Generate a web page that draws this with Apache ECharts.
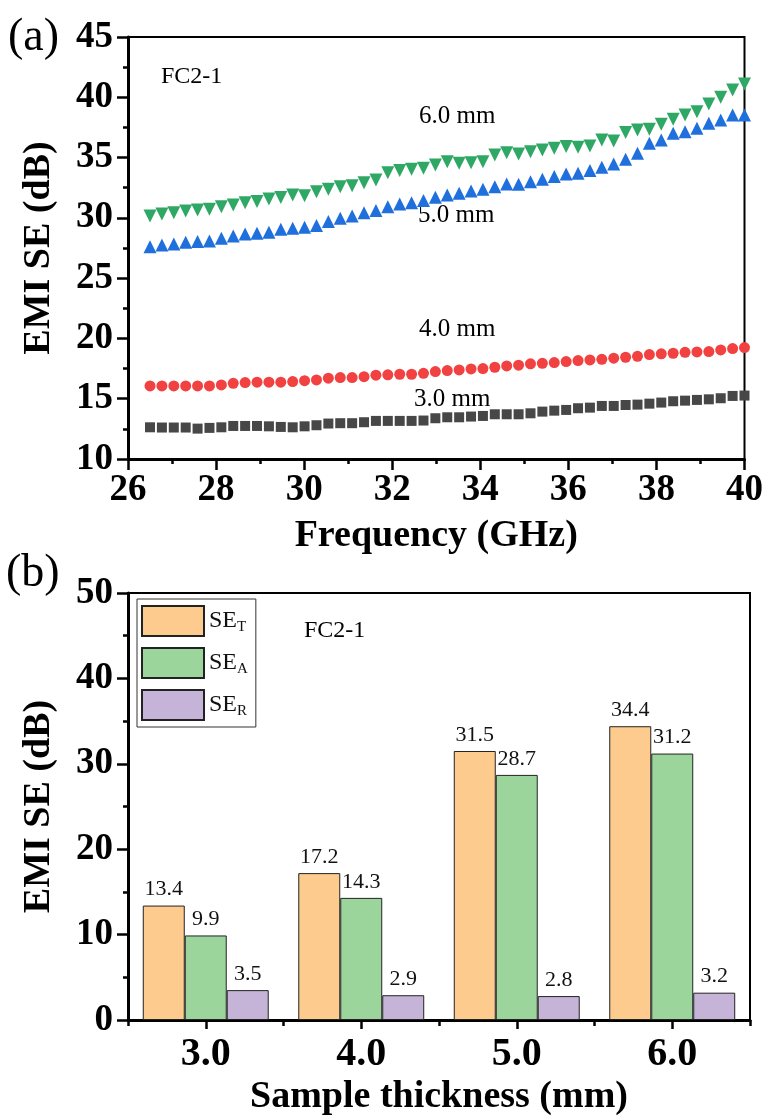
<!DOCTYPE html>
<html>
<head>
<meta charset="utf-8">
<script src="https://cdn.jsdelivr.net/npm/echarts@6/dist/echarts.min.js"></script>
<style>
html,body{margin:0;padding:0;background:#fff;}
#main{width:766px;height:1117px;}
</style>
</head>
<body>
<div id="main"></div>
<script>
// (a) frequency sweep, GHz
var freq = [26.50,26.77,27.04,27.31,27.58,27.85,28.12,28.39,28.66,28.93,29.20,29.47,29.74,30.01,30.28,30.55,30.82,31.09,31.36,31.63,31.90,32.17,32.44,32.71,32.98,33.25,33.52,33.79,34.06,34.33,34.60,34.87,35.14,35.41,35.68,35.95,36.22,36.49,36.76,37.03,37.30,37.57,37.84,38.11,38.38,38.65,38.92,39.19,39.46,39.73,40.00];
var se30 = [12.63,12.61,12.61,12.61,12.52,12.58,12.63,12.74,12.74,12.74,12.71,12.66,12.63,12.71,12.80,12.94,12.97,12.97,13.05,13.16,13.16,13.16,13.16,13.19,13.38,13.46,13.46,13.52,13.57,13.71,13.71,13.71,13.79,13.93,14.01,14.07,14.21,14.26,14.40,14.40,14.48,14.51,14.59,14.68,14.79,14.84,14.90,14.95,15.04,15.23,15.26];
var se40 = [16.06,16.06,16.06,16.06,16.06,16.06,16.14,16.28,16.34,16.37,16.37,16.37,16.42,16.50,16.56,16.70,16.75,16.75,16.83,16.95,16.98,17.03,17.03,17.11,17.25,17.33,17.39,17.47,17.50,17.61,17.72,17.78,17.89,17.94,18.00,18.08,18.16,18.22,18.27,18.36,18.44,18.52,18.66,18.72,18.77,18.85,18.88,18.91,19.05,19.16,19.24];
var se50 = [27.61,27.75,27.84,27.97,28.03,28.08,28.31,28.50,28.67,28.72,28.80,29.05,29.13,29.22,29.36,29.69,29.96,30.16,30.43,30.60,30.93,31.15,31.26,31.43,31.71,31.90,32.04,32.23,32.37,32.59,32.81,32.78,33.00,33.20,33.42,33.64,33.70,33.92,34.19,34.47,34.86,35.35,36.18,36.46,37.01,37.15,37.43,37.84,38.12,38.53,38.53];
var se60 = [30.16,30.32,30.43,30.57,30.66,30.71,30.93,31.07,31.26,31.35,31.57,31.68,31.90,31.84,32.17,32.37,32.59,32.67,32.92,33.14,33.75,33.92,34.03,34.11,34.39,34.66,34.52,34.58,34.66,35.22,35.41,35.30,35.49,35.63,35.77,35.91,35.85,35.96,36.46,36.38,37.07,37.29,37.34,37.76,38.17,38.53,38.81,39.44,40.00,40.61,41.10];

// (b) per thickness
var thickness = ['3.0','4.0','5.0','6.0'];
var seT = [13.4,17.2,31.5,34.4];
var seA = [9.9,14.3,28.7,31.2];
var seR = [3.5,2.9,2.8,3.2];

var serif = '"Liberation Serif","Times New Roman",serif';

function pairs(ys) {
	return freq.map(function(f,i) {
		return [f, ys[i]];
	});
}

function scatter(name,ys,symbol,size,color,rot) {
	return {
		name:name,
		type:'scatter',
		xAxisIndex:0,
		yAxisIndex:0,
		data:pairs(ys),
		symbol:symbol,
		symbolSize:size,
		symbolRotate:rot||0,
		itemStyle:{color:color,opacity:1},
		z:3
	};
}

function bar(name,vals,color) {
	return {
		name:name,
		type:'bar',
		xAxisIndex:1,
		yAxisIndex:1,
		data:vals,
		barWidth:'27%',
		barGap:'0%',
		itemStyle:{color:color,borderColor:'#222',borderWidth:1},
		label:{show:true,position:'top',distance:5,fontFamily:serif,fontSize:22,color:'#111'}
	};
}

var axisLine = {show:true,lineStyle:{color:'#000',width:3}};
var tickLabel = {fontFamily:serif,fontWeight:'bold',fontSize:37,color:'#000'};
var nameStyle = {fontFamily:serif,fontWeight:'bold',fontSize:38,color:'#000'};

var myChart = echarts.init(document.getElementById('main'));
myChart.setOption({
	backgroundColor:'#fff',
	animation:false,
	grid:[
		{left:128,top:37,width:618,height:422,show:true,borderColor:'#000',borderWidth:2,backgroundColor:'transparent'},
		{left:128,top:593,width:622,height:427,show:true,borderColor:'#000',borderWidth:2,backgroundColor:'transparent'}
	],
	xAxis:[
		{
			gridIndex:0,type:'value',min:26,max:40,interval:2,
			axisLine:axisLine,
			axisTick:{show:true,inside:false,length:11,lineStyle:{color:'#000',width:2.5}},
			minorTick:{show:true,splitNumber:2,length:5,lineStyle:{color:'#000',width:2.5}},
			splitLine:{show:false},
			axisLabel:Object.assign({margin:13},tickLabel),
			name:'Frequency (GHz)',nameLocation:'middle',nameGap:58,nameTextStyle:nameStyle
		},
		{
			gridIndex:1,type:'category',data:thickness,
			axisLine:axisLine,
			axisTick:{show:true,alignWithLabel:true,length:9,lineStyle:{color:'#000',width:2.5}},
			splitLine:{show:false},
			axisLabel:{margin:15,fontFamily:serif,fontWeight:'bold',fontSize:40,color:'#000'},
			name:'Sample thickness (mm)',nameLocation:'middle',nameGap:58,nameTextStyle:nameStyle
		},
		{
			gridIndex:1,type:'category',data:thickness,position:'bottom',
			axisLine:{show:false},
			axisTick:{show:true,alignWithLabel:false,length:6,lineStyle:{color:'#000',width:2.5}},
			axisLabel:{show:false},
			splitLine:{show:false}
		}
	],
	yAxis:[
		{
			gridIndex:0,type:'value',min:10,max:45,interval:5,
			axisLine:axisLine,
			axisTick:{show:true,inside:false,length:11,lineStyle:{color:'#000',width:2.5}},
			minorTick:{show:true,splitNumber:2,length:5,lineStyle:{color:'#000',width:2.5}},
			splitLine:{show:false},
			axisLabel:Object.assign({margin:15},tickLabel),
			name:'EMI SE (dB)',nameLocation:'middle',nameGap:70,nameRotate:90,nameTextStyle:nameStyle
		},
		{
			gridIndex:1,type:'value',min:0,max:50,interval:10,
			axisLine:axisLine,
			axisTick:{show:true,inside:false,length:11,lineStyle:{color:'#000',width:2.5}},
			minorTick:{show:true,splitNumber:2,length:5,lineStyle:{color:'#000',width:2.5}},
			splitLine:{show:false},
			axisLabel:Object.assign({margin:15},tickLabel),
			name:'EMI SE (dB)',nameLocation:'middle',nameGap:70,nameRotate:90,nameTextStyle:nameStyle
		}
	],
	legend:{
		data:['SE_T','SE_A','SE_R'],
		orient:'vertical',
		left:137,top:599,
		itemWidth:62,itemHeight:30,itemGap:10,
		padding:[6,8,6,4],
		borderColor:'#333',borderWidth:1,
		icon:'rect',
		formatter:function(n) {
			return '{m|SE}{s|'+n.split('_')[1]+'}';
		},
		textStyle:{
			rich:{
				m:{fontFamily:serif,fontSize:24,color:'#111'},
				s:{fontFamily:serif,fontSize:15,color:'#111',padding:[12,0,0,0]}
			}
		}
	},
	series:[
		scatter('3.0mm',se30,'rect',10,'#474747'),
		scatter('4.0mm',se40,'circle',11,'#f24141'),
		scatter('5.0mm',se50,'triangle',13,'#1f6fdc'),
		scatter('6.0mm',se60,'triangle',13,'#2fa865',180),
		bar('SE_T',seT,'#fecb8e'),
		bar('SE_A',seA,'#9cd59b'),
		bar('SE_R',seR,'#c5b3d8')
	],
	graphic:[
		{type:'text',left:8,top:15,style:{text:'(a)',font:'46px '+serif,fill:'#000'}},
		{type:'text',left:6,top:551,style:{text:'(b)',font:'46px '+serif,fill:'#000'}},
		{type:'text',left:161,top:65,style:{text:'FC2-1',font:'24px '+serif,fill:'#000'}},
		{type:'text',left:304,top:619,style:{text:'FC2-1',font:'24px '+serif,fill:'#000'}},
		{type:'text',left:419,top:104,style:{text:'6.0 mm',font:'25px '+serif,fill:'#000'}},
		{type:'text',left:418,top:203,style:{text:'5.0 mm',font:'25px '+serif,fill:'#000'}},
		{type:'text',left:419,top:317,style:{text:'4.0 mm',font:'25px '+serif,fill:'#000'}},
		{type:'text',left:414,top:387,style:{text:'3.0 mm',font:'25px '+serif,fill:'#000'}}
	]
});
</script>
</body>
</html>
